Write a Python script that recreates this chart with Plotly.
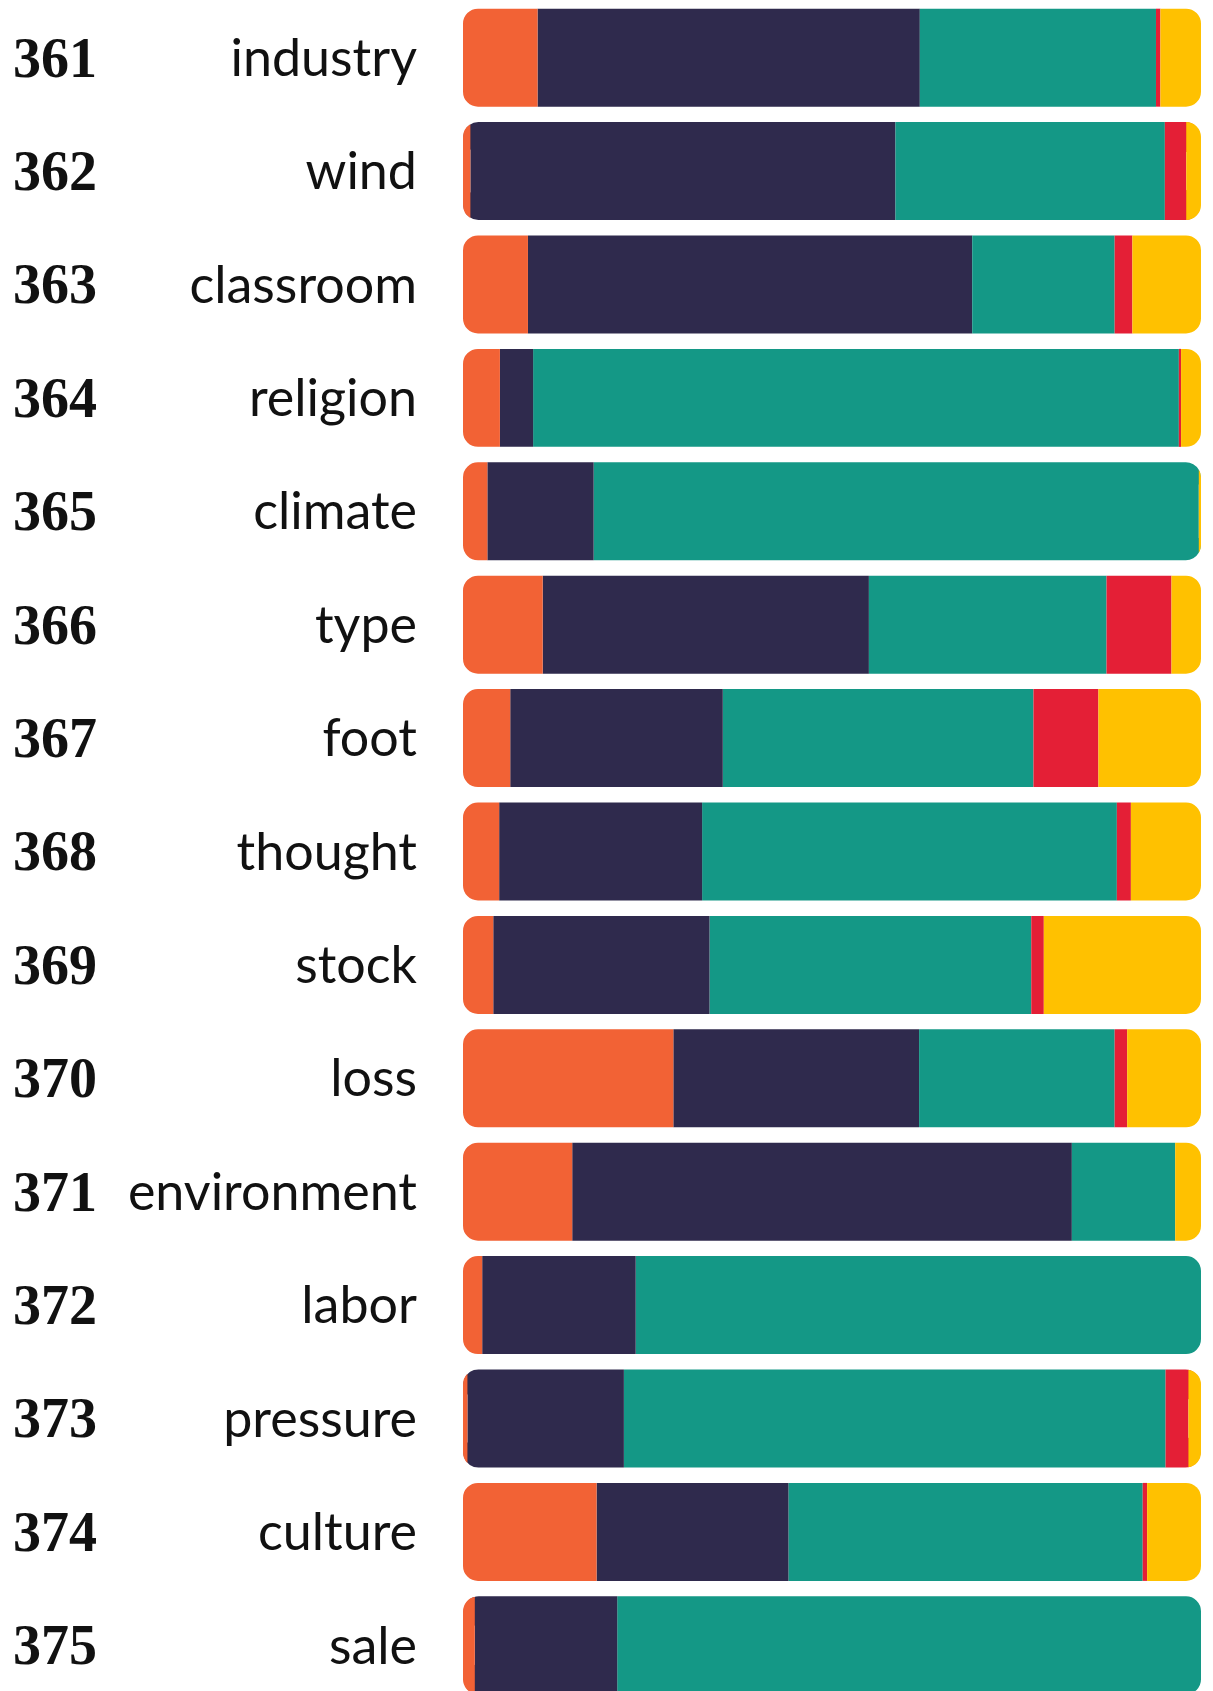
import plotly.graph_objects as go

ranks = ["361", "362", "363", "364", "365", "366", "367", "368", "369", "370",
         "371", "372", "373", "374", "375"]
words = ["industry", "wind", "classroom", "religion", "climate", "type", "foot",
         "thought", "stock", "loss", "environment", "labor", "pressure", "culture", "sale"]

orange = [10.1, 1.0, 8.8, 5.0, 3.3, 10.8, 6.4, 4.9, 4.1, 28.5, 14.8, 2.6, 0.6, 18.1, 1.6]
navy   = [51.8, 57.6, 60.2, 4.5, 14.4, 44.2, 28.8, 27.5, 29.3, 33.3, 67.7, 20.8, 21.2, 26.0, 19.3]
teal   = [32.0, 36.5, 19.3, 87.5, 82.0, 32.2, 42.1, 56.2, 43.6, 26.5, 14.0, 76.6, 73.4, 48.0, 79.1]
red    = [0.6, 2.9, 2.4, 0.3, 0.0, 8.8, 8.8, 1.9, 1.7, 1.7, 0.0, 0.0, 3.1, 0.6, 0.0]
yellow = [5.5, 2.0, 9.3, 2.7, 0.3, 4.0, 13.9, 9.5, 21.3, 10.0, 3.5, 0.0, 1.7, 7.3, 0.0]

series = [("orange", orange, "#F26235"), ("navy", navy, "#2F2A4D"),
          ("teal", teal, "#149886"), ("red", red, "#E41F36"),
          ("yellow", yellow, "#FFC100")]

n = len(words)
ypos = list(range(n))
SPLIT = 50.0

# split every stack at its midpoint so both ends of each bar can be rounded
neg_parts, pos_parts = {}, {}
for name, vals, col in series:
    neg_parts[name] = []
    pos_parts[name] = []
for i in range(n):
    tot = sum(s[1][i] for s in series)
    start = 0.0
    for name, vals, col in series:
        a = start / tot * 100
        b = (start + vals[i]) / tot * 100
        start += vals[i]
        neg = max(0.0, min(b, SPLIT) - a) if a < SPLIT else 0.0
        pos = max(0.0, b - max(a, SPLIT))
        neg_parts[name].append(-neg)
        pos_parts[name].append(pos)

fig = go.Figure()
for name, vals, col in reversed(series):
    fig.add_trace(go.Bar(y=ypos, x=neg_parts[name], orientation="h",
                         marker=dict(color=col, line=dict(width=0)),
                         width=0.864, showlegend=False, hoverinfo="skip"))
for name, vals, col in series:
    fig.add_trace(go.Bar(y=ypos, x=pos_parts[name], orientation="h",
                         marker=dict(color=col, line=dict(width=0)),
                         width=0.864, showlegend=False, hoverinfo="skip"))

for i in range(n):
    fig.add_annotation(x=-0.612, xref="paper", y=ypos[i], yref="y",
                       text="<b>" + ranks[i] + "</b>", showarrow=False,
                       xanchor="left", yanchor="middle",
                       font=dict(family="Liberation Serif", size=56, color="#111111"))

fig.update_layout(
    width=1205, height=1683,
    margin=dict(l=455, r=12, t=0, b=0),
    barmode="relative",
    barcornerradius=15,
    paper_bgcolor="white", plot_bgcolor="white",
    xaxis=dict(range=[-SPLIT, SPLIT], visible=False, fixedrange=True),
    yaxis=dict(range=[14.403, -0.438], tickmode="array", tickvals=ypos,
               ticktext=words, showgrid=False, zeroline=False, showline=False,
               ticks="", ticklabelstandoff=45,
               tickfont=dict(family="Lato", size=52, color="#111111")),
)

fig.write_html("out.html")
